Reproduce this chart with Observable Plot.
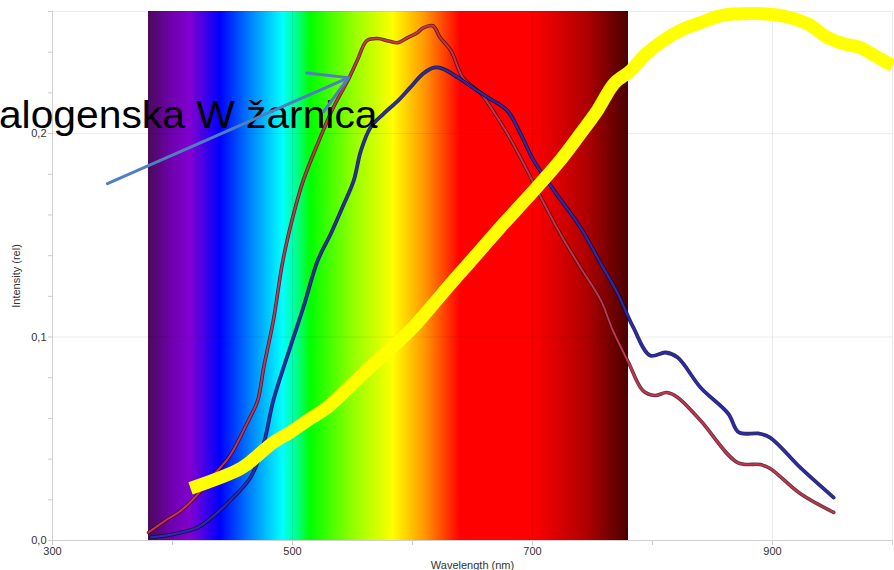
<!DOCTYPE html>
<html><head><meta charset="utf-8">
<script src="https://cdn.jsdelivr.net/npm/d3@7"></script>
<script src="https://cdn.jsdelivr.net/npm/@observablehq/plot@0.6"></script>
<style>
body{margin:0;background:#fff;}
#chart svg{display:block;overflow:hidden;}
</style>
</head><body><div id="chart"></div>
<script>
// Halogen lamp spectrum (red) and second spectrum (blue)
const redWavelength = [380,394,407,420,434,448,462,471,476,484,492,501,509,521,534,546,554,562,571,580,588,596,604,609,617,623,632,642,657,667,679,690,707,723,740,757,767,780,792,802,812,821,840,871,890,898,923,951];
const redIntensity = [0.004,0.0098,0.0147,0.022,0.032,0.0418,0.0575,0.0688,0.085,0.108,0.1376,0.1607,0.177,0.195,0.2128,0.226,0.236,0.2457,0.2467,0.2455,0.2447,0.2472,0.2496,0.252,0.253,0.2472,0.2408,0.2275,0.2197,0.2113,0.2,0.1882,0.1686,0.1509,0.1342,0.118,0.1032,0.0875,0.0737,0.0713,0.0727,0.0703,0.059,0.0383,0.0373,0.0354,0.0231,0.0138];

const blueWavelength = [382,400,421,434,448,465,476,484,498,509,521,532,543,551,557,565,576,588,598,609,618,625,638,654,663,679,690,701,718,740,757,771,784,798,811,821,840,863,872,888,898,923,951];
const blueIntensity = [0.0015,0.003,0.0064,0.012,0.0197,0.031,0.0477,0.0688,0.0948,0.1145,0.1376,0.1509,0.1656,0.1769,0.1916,0.203,0.2098,0.2162,0.2226,0.2295,0.2324,0.2319,0.2275,0.2211,0.2177,0.2113,0.2,0.1867,0.172,0.1538,0.1361,0.1214,0.1047,0.0909,0.0924,0.0899,0.0752,0.0624,0.0531,0.0526,0.0506,0.0359,0.0211];

// Hand-drawn yellow curve
const yellowWavelength = [415,457,471,484,498,515,529,559,598,615,632,654,673,696,721,740,754,768,782,793,809,823,840,857,884,907,929,946,959,973,988,1000];
const yellowIntensity = [0.0256,0.0354,0.0418,0.0482,0.0531,0.06,0.0654,0.0821,0.1032,0.1145,0.1263,0.141,0.1538,0.1686,0.1853,0.2,0.2113,0.2246,0.231,0.2383,0.2457,0.2506,0.2545,0.258,0.259,0.258,0.254,0.2472,0.2442,0.2423,0.2373,0.2334];

// Visible spectrum band
const spectrumStart = 380, spectrumEnd = 780;
const spectrumWavelength = [380,400,415,440,465,492,505,515,550,584,610,640,700,745,780];
const spectrumColor = ["#4a0a5a","#7000b0","#8200d0","#0000ff","#0080ff","#00ffff","#00ff80","#00ff00","#90ff00","#ffff00","#ff9900","#ff0000","#ff0000","#b00000","#4a0000"];

// Axes
const xDomain = [300, 1000];
const yDomain = [0, 0.26];
const xTicks = [300,400,500,600,700,800,900,1000];
const xLabelled = [300,500,700,900];
const yTicks = [0,0.02,0.04,0.06,0.08,0.1,0.12,0.14,0.16,0.18,0.2,0.22,0.24,0.26];
const yLabelled = [0, 0.1, 0.2];
const xGrid = [500,700,900,1000];
const yGrid = [0.1,0.2,0.26];

// Annotation
const annotationText = ["Halogenska W žarnica"];
const annotationX = [570.8], annotationY = [0.2025];
const arrowFrom = [345.8, 0.1754], arrowTo = [546.7, 0.2275];

const zip = (xs, ys) => xs.map((x, i) => ({x, y: ys[i]}));
const red = zip(redWavelength, redIntensity);
const blue = zip(blueWavelength, blueIntensity);
const yellow = zip(yellowWavelength, yellowIntensity);

const narrow = "'Liberation Sans Narrow','Arial Narrow','Liberation Sans',Arial,sans-serif";

const plot = Plot.plot({
  width: 894, height: 570,
  marginLeft: 52, marginRight: 2, marginTop: 11, marginBottom: 30,
  x: {domain: xDomain},
  y: {domain: yDomain},
  style: {fontFamily: narrow, background: "#fff"},
  marks: [
    Plot.rect([{x1: spectrumStart, x2: spectrumEnd, y1: yDomain[0], y2: yDomain[1]}],
      {x1: "x1", x2: "x2", y1: "y1", y2: "y2", fill: "url(#spectrum)"}),
    Plot.gridX(xGrid, {stroke: "#000", strokeOpacity: 0.08}),
    Plot.gridY(yGrid, {stroke: "#000", strokeOpacity: 0.08}),
    Plot.ruleX([xDomain[0]], {stroke: "#d0d0d0"}),
    Plot.ruleY([yDomain[0]], {stroke: "#d0d0d0"}),
    Plot.axisX({ticks: xTicks, tickSize: 5, tickPadding: 2, stroke: "#ccc",
      tickFormat: d => xLabelled.includes(d) ? String(d) : "",
      fontSize: 11, fill: "#333", label: "Wavelength (nm)", labelAnchor: "center", labelArrow: "none", labelOffset: 28}),
    Plot.axisY({ticks: yTicks, tickSize: 4, tickPadding: 2, stroke: "#ccc",
      tickFormat: d => yLabelled.some(v => Math.abs(v - d) < 1e-9) ? d.toFixed(1).replace(".", ",") : "",
      fontSize: 11, fill: "#333", label: "Intensity (rel)", labelAnchor: "center", labelArrow: "none", labelOffset: 40}),
    Plot.line(red, {x: "x", y: "y", curve: "catmull-rom", stroke: "#2a0810", strokeWidth: 3.6, strokeOpacity: 0.8}),
    Plot.line(red, {x: "x", y: "y", curve: "catmull-rom", stroke: "#c8324c", strokeWidth: 2}),
    Plot.line(blue, {x: "x", y: "y", curve: "catmull-rom", stroke: "#0a0a30", strokeWidth: 3.8, strokeOpacity: 0.85}),
    Plot.line(blue, {x: "x", y: "y", curve: "catmull-rom", stroke: "#2a2ab0", strokeWidth: 2.2}),
    Plot.line(yellow, {x: "x", y: "y", curve: "catmull-rom", stroke: "#ffff00", strokeWidth: 13, strokeLinejoin: "round", strokeLinecap: "butt"}),
    Plot.text(annotationText.map((t, i) => ({t, x: annotationX[i], y: annotationY[i]})),
      {x: "x", y: "y", text: "t", textAnchor: "end", lineAnchor: "bottom", fontSize: 38, fill: "#000",
       fontFamily: "'Liberation Sans',Arial,sans-serif", className: "annot"}),
    Plot.arrow([{x1: arrowFrom[0], y1: arrowFrom[1], x2: arrowTo[0], y2: arrowTo[1]}],
      {x1: "x1", y1: "y1", x2: "x2", y2: "y2", stroke: "#4f7fc0", strokeWidth: 3, headLength: 21, bend: 0})
  ]
});

const svg = d3.select(plot);
const grad = svg.insert("defs", ":first-child").append("linearGradient")
  .attr("id", "spectrum").attr("x1", "0").attr("x2", "1").attr("y1", "0").attr("y2", "0");
spectrumWavelength.forEach((w, i) => {
  grad.append("stop").attr("offset", (w - spectrumStart) / (spectrumEnd - spectrumStart)).attr("stop-color", spectrumColor[i]);
});
// the annotation is slightly wider than the font's natural width in the reference
svg.selectAll(".annot text").attr("textLength", 408).attr("lengthAdjust", "spacingAndGlyphs");

document.getElementById("chart").appendChild(plot);
</script>
</body></html>
